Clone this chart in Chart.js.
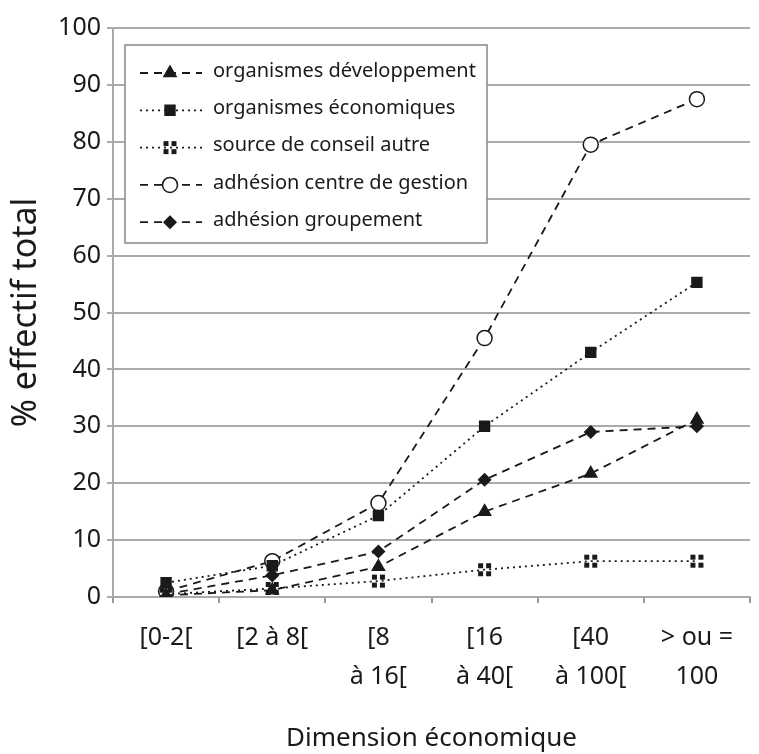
<!DOCTYPE html>
<html>
<head>
<meta charset="utf-8">
<script src="https://cdn.jsdelivr.net/npm/chart.js@4"></script>
<style>
  html, body { margin: 0; padding: 0; background: #fff; }
  #wrap { width: 759px; height: 754px; }
</style>
</head>
<body>
<div id="wrap"><canvas id="myChart" width="759" height="754"></canvas></div>
<script>
// data
const categories = ["[0-2[", "[2 à 8[", ["[8", "à 16["], ["[16", "à 40["], ["[40", "à 100["], ["> ou =", "100"]];
const developpement = [0.3, 1.2, 5.3, 15, 21.7, 31.2];
const economiques = [2.5, 5.5, 14.3, 30, 43, 55.3];
const conseilAutre = [0.5, 1.5, 2.8, 4.8, 6.3, 6.3];
const centreGestion = [1, 6.3, 16.5, 45.5, 79.5, 87.5];
const groupement = [0.5, 3.8, 8, 20.6, 29, 30];
const yTicks = [0, 10, 20, 30, 40, 50, 60, 70, 80, 90, 100];

const FONT = "'Noto Sans', sans-serif";
const INK = "#1a1a1a";

// marker made of four little squares (source de conseil autre)
function fourSquares() {
  const c = document.createElement("canvas");
  c.width = 15; c.height = 15;
  const g = c.getContext("2d");
  g.fillStyle = INK;
  g.fillRect(1, 1, 5, 5); g.fillRect(9, 1, 5, 5);
  g.fillRect(1, 9, 5, 5); g.fillRect(9, 9, 5, 5);
  return c;
}

const DASH = [8, 6];
const DOT = [2, 4];

function ds(label, data, dash, style, radius, fill) {
  return {
    label: label, data: data,
    borderColor: INK, borderWidth: 1.8, borderDash: dash,
    pointStyle: style, pointRadius: radius,
    pointBackgroundColor: fill || INK, pointBorderColor: INK, pointBorderWidth: 1.5,
    tension: 0, fill: false
  };
}

// legend drawn inside the plot, with line sample + marker
const boxLegend = {
  id: "boxLegend",
  afterDatasetsDraw(chart) {
    const ctx = chart.ctx, a = chart.chartArea;
    const x0 = a.left + 12, y0 = a.top + 17, w = 362, h = 198;
    ctx.save();
    ctx.fillStyle = "#fff";
    ctx.fillRect(x0, y0, w, h);
    ctx.strokeStyle = "#888"; ctx.lineWidth = 1.5; ctx.setLineDash([]);
    ctx.strokeRect(x0, y0, w, h);
    chart.data.datasets.forEach((d, i) => {
      const y = y0 + 28 + i * 37.3;
      ctx.strokeStyle = INK; ctx.lineWidth = d.borderWidth;
      ctx.setLineDash(d.borderDash);
      ctx.beginPath(); ctx.moveTo(x0 + 15, y); ctx.lineTo(x0 + 77, y); ctx.stroke();
      ctx.setLineDash([]);
      ctx.fillStyle = d.pointBackgroundColor; ctx.strokeStyle = INK; ctx.lineWidth = d.pointBorderWidth;
      Chart.helpers.drawPoint(ctx, { pointStyle: d.pointStyle, radius: d.pointRadius, borderWidth: d.pointBorderWidth, rotation: 0 }, x0 + 45, y);
      ctx.fillStyle = INK; ctx.font = "20px " + FONT; ctx.textBaseline = "middle";
      ctx.fillText(d.label, x0 + 88, y - 2);
    });
    ctx.restore();
  }
};

new Chart(document.getElementById("myChart"), {
  type: "line",
  data: {
    labels: categories,
    datasets: [
      ds("organismes développement", developpement, DASH, "triangle", 7),
      ds("organismes économiques", economiques, DOT, "rect", 7),
      ds("source de conseil autre", conseilAutre, DOT, fourSquares(), 7),
      ds("adhésion centre de gestion", centreGestion, DASH, "circle", 7.5, "#fff"),
      ds("adhésion groupement", groupement, DASH, "rectRot", 6)
    ]
  },
  options: {
    responsive: false,
    animation: false,
    layout: { padding: { top: 28, right: 2, left: 0, bottom: 0 } },
    plugins: { legend: { display: false }, tooltip: { enabled: false } },
    scales: {
      x: {
        offset: true,
        afterFit: (s) => { s.height = 157; },
        grid: { offset: true, drawOnChartArea: false, tickLength: 6, color: "#999", lineWidth: 2 },
        border: { color: "#aaa", width: 2 },
        ticks: { color: INK, font: { family: FONT, size: 25, lineHeight: 1.56 }, padding: 15, maxRotation: 0, autoSkip: false },
        title: { display: true, text: "Dimension économique", color: INK, font: { family: FONT, size: 26 }, padding: { top: 0, bottom: 0 } }
      },
      y: {
        min: 0, max: 100,
        afterFit: (s) => { s.width = 113; },
        afterBuildTicks: (s) => { s.ticks = yTicks.map(v => ({ value: v })); },
        grid: { color: "#aaa", lineWidth: 2, tickLength: 6 },
        border: { color: "#aaa", width: 2 },
        ticks: { color: INK, font: { family: FONT, size: 25 }, padding: 6 },
        title: { display: true, text: "% effectif total", color: INK, font: { family: FONT, size: 34 }, padding: { top: 6, bottom: 0 } }
      }
    }
  },
  plugins: [boxLegend]
});
</script>
</body>
</html>
